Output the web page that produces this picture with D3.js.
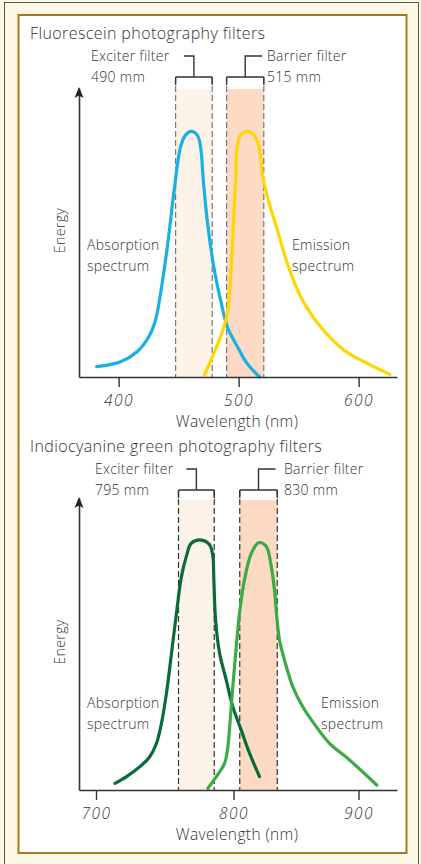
<!DOCTYPE html>
<html lang="en">

<head>
    <meta charset="utf-8">
    <title>Fluorescein and ICG photography filters</title>
    <style>
        body { margin: 0; background: #fdf8e6; }
        svg text { font-family: "Open Sans", sans-serif; font-weight: 300; fill: #333; }
    </style>
</head>

<body>
    <script src="https://cdn.jsdelivr.net/npm/d3@7/dist/d3.min.js"></script>
    <script>
        // ---- data (energy in arbitrary units, 0-100) ----
        var fluoTicks = [400, 500, 600];
        var fluoDomain = [367, 632];
        var fluoExciterBand = [447.5, 478];
        var fluoBarrierBand = [490, 521];
        var fluoExciterText = ["Exciter filter", "490 mm"];
        var fluoBarrierText = ["Barrier filter", "515 mm"];
        var fluoAbsWave = [381.7, 401.7, 415.6, 425.3, 430.8, 435, 440.6, 446, 451.7, 455.8, 460.6, 465.6, 468.3, 470.6, 473.9, 479.4, 485, 490.6, 499, 507, 517.5];
        var fluoAbsEnergy = [3.6, 5.3, 8.8, 14, 19.7, 29, 45, 63.5, 79.7, 83.7, 85, 83.7, 79.7, 68, 54, 38, 26.6, 17.4, 10.5, 4.7, 0];
        var fluoEmiWave = [471.7, 479.4, 485, 490.6, 494.7, 497.5, 498.9, 501.7, 507.2, 512.8, 517, 519.7, 523.9, 532.2, 540.6, 551.7, 568.3, 587.8, 607.2, 626.1];
        var fluoEmiEnergy = [0.7, 8.2, 14, 22, 45, 68, 79.7, 83.7, 85, 83.7, 79.7, 70.5, 62.4, 51, 39.3, 27.8, 17.4, 9.3, 4.7, 0.9];

        var icgTicks = [700, 800, 900];
        var icgDomain = [688, 930];
        var icgExciterBand = [760, 786];
        var icgBarrierBand = [805, 835];
        var icgExciterText = ["Exciter filter", "795 mm"];
        var icgBarrierText = ["Barrier filter", "830 mm"];
        var icgAbsWave = [713.8, 722.2, 731.9, 739.1, 744, 747.6, 751.2, 754.9, 758.5, 762.1, 765.7, 769.3, 776.6, 782.6, 785, 785.7, 787, 789.9, 794.7, 799.5, 806.2, 812.8, 820.8];
        var icgAbsEnergy = [2.3, 4.6, 8, 11.4, 16, 22.8, 33, 46.8, 60.5, 73, 80, 84.5, 85.6, 84, 80, 72, 58, 46.8, 37.7, 28.5, 20.5, 12.6, 4.6];
        var icgEmiWave = [781.4, 787.5, 793.5, 795.9, 797.6, 799.5, 802.2, 804.8, 808.8, 814.2, 820.2, 826.2, 830.2, 832.8, 834.5, 836.8, 840.8, 847.4, 855.4, 866.2, 876.8, 892.8, 914.2];
        var icgEmiEnergy = [0.6, 4.6, 9.1, 14.8, 24, 35.4, 49, 60.5, 72, 81, 84.7, 83.4, 76.5, 68.5, 60, 51.4, 44.5, 35.4, 28.5, 21.7, 16, 10.3, 1.7];

        var W = 421, H = 864;
        var svg = d3.select("body").append("svg").attr("width", W).attr("height", H);

        // frame
        svg.append("rect").attr("x", 4.5).attr("y", 2.5).attr("width", 414).attr("height", 870)
            .attr("fill", "#fdf8e6").attr("stroke", "#555").attr("stroke-width", 1);
        svg.append("rect").attr("x", 18.5).attr("y", 15).attr("width", 388).attr("height", 838)
            .attr("fill", "#fff").attr("stroke", "#a57a1f").attr("stroke-width", 2);

        function zip(a, b) {
            return a.map(function(d, i) { return [d, b[i]]; });
        }

        function drawPanel(p) {
            var g = svg.append("g");
            var x = d3.scaleLinear().domain(p.domain).range(p.range);
            var y = d3.scaleLinear().domain([0, 100]).range([p.axisY, p.topY]);
            var xLeft = p.range[0], xRight = p.range[p.range.length - 1];

            // title
            g.append("text").attr("x", 30).attr("y", p.titleY).attr("font-size", 16)
                .attr("letter-spacing", 0.4).text(p.title);

            // filter bands
            var bands = [
                { band: p.exciter, fill: "#fdf3e8", text: p.exciterText, side: "left" },
                { band: p.barrier, fill: "#fcdac3", text: p.barrierText, side: "right" }
            ];
            bands.forEach(function(b) {
                var x0 = x(b.band[0]), x1 = x(b.band[1]), xm = (x0 + x1) / 2;
                g.append("rect").attr("x", x0).attr("y", p.bandTop)
                    .attr("width", x1 - x0).attr("height", p.axisY - p.bandTop).attr("fill", b.fill);
                [x0, x1].forEach(function(xx) {
                    g.append("line").attr("x1", xx).attr("x2", xx).attr("y1", p.bracketY).attr("y2", p.axisY)
                        .attr("stroke", p.dashColor).attr("stroke-width", 1.2).attr("stroke-dasharray", "6,3");
                    g.append("line").attr("x1", xx).attr("x2", xx).attr("y1", p.bracketY).attr("y2", p.bracketY + 8)
                        .attr("stroke", "#333").attr("stroke-width", 1.4);
                });
                var stemEnd = b.side == "left" ? xm - 10 : xm + 17;
                g.append("path")
                    .attr("d", "M" + x0 + "," + p.bracketY + "H" + x1 + "M" + xm + "," + p.bracketY +
                        "V" + (p.bracketY - 21) + "H" + stemEnd)
                    .attr("fill", "none").attr("stroke", "#333").attr("stroke-width", 1.4);
                var tx = b.side == "left" ? p.exciterTextX : p.barrierTextX;
                g.append("text").attr("x", tx).attr("y", p.bracketY - 16).attr("font-size", 14)
                    .attr("letter-spacing", 0.3).text(b.text[0]);
                g.append("text").attr("x", tx).attr("y", p.bracketY + 5).attr("font-size", 14)
                    .attr("letter-spacing", 0.3).text(b.text[1]);
            });

            // curves
            var line = d3.line().x(function(d) { return x(d[0]); }).y(function(d) { return y(d[1]); })
                .curve(d3.curveCatmullRom.alpha(0.5));
            g.append("path").datum(zip(p.absWave, p.absEnergy)).attr("d", line)
                .attr("fill", "none").attr("stroke", p.absColor).attr("stroke-width", 3.2).attr("stroke-linecap", "round");
            g.append("path").datum(zip(p.emiWave, p.emiEnergy)).attr("d", line)
                .attr("fill", "none").attr("stroke", p.emiColor).attr("stroke-width", 3.2).attr("stroke-linecap", "round");

            // axes
            var xAxis = d3.axisBottom(x).tickValues(p.ticks).tickSize(10).tickSizeOuter(0);
            var ax = g.append("g").attr("transform", "translate(0," + p.axisY + ")").call(xAxis);
            ax.select(".domain").attr("stroke", "#333").attr("stroke-width", 1.6);
            ax.selectAll(".tick line").attr("stroke", "#333").attr("stroke-width", 1.4);
            ax.selectAll(".tick text").attr("font-size", 15.5).attr("font-style", "italic")
                .attr("font-family", "Open Sans, sans-serif").attr("font-weight", 300).attr("fill", "#333")
                .attr("letter-spacing", 1.5).attr("y", 29).attr("dy", 0);

            var yAxis = d3.axisLeft(y).tickValues([]).tickSizeOuter(0);
            var ay = g.append("g").attr("transform", "translate(" + xLeft + ",0)").call(yAxis);
            ay.select(".domain").attr("stroke", "#333").attr("stroke-width", 1.6);
            g.append("path").attr("d", "M" + xLeft + "," + (p.topY - 1) + "l-4.5,11l4.5,-2.5l4.5,2.5z").attr("fill", "#222");

            g.append("text").attr("x", (xLeft + xRight) / 2 - 1).attr("y", p.axisY + 50)
                .attr("text-anchor", "middle").attr("font-size", 15.5).attr("letter-spacing", 0.4)
                .text("Wavelength (nm)");
            g.append("text").attr("transform", "translate(65," + ((p.axisY + p.topY) / 2 - 2) + ") rotate(-90)")
                .attr("text-anchor", "middle").attr("font-size", 14).attr("letter-spacing", 0.4).text("Energy");

            // curve labels
            [["Absorption", 0], ["spectrum", 1]].forEach(function(t) {
                g.append("text").attr("x", 87).attr("y", p.labelY + t[1] * 21).attr("font-size", 14)
                    .attr("letter-spacing", 0.3).text(t[0]);
                g.append("text").attr("x", p.emiLabelX).attr("y", p.labelY + t[1] * 21).attr("font-size", 14)
                    .attr("letter-spacing", 0.3).text(t[1] == 0 ? "Emission" : "spectrum");
            });
        }

        drawPanel({
            title: "Fluorescein photography filters", titleY: 39,
            domain: fluoDomain, range: [79, 397], ticks: fluoTicks,
            axisY: 377, topY: 88, bandTop: 89, bracketY: 77, exciterTextX: 91, barrierTextX: 267,
            exciter: fluoExciterBand, barrier: fluoBarrierBand,
            exciterText: fluoExciterText, barrierText: fluoBarrierText,
            absWave: fluoAbsWave, absEnergy: fluoAbsEnergy, emiWave: fluoEmiWave, emiEnergy: fluoEmiEnergy,
            absColor: "#19b0e6", emiColor: "#ffd600", dashColor: "#777",
            labelY: 250, emiLabelX: 292
        });

        drawPanel({
            title: "Indiocyanine green photography filters", titleY: 452,
            domain: [icgDomain[0], icgTicks[0], icgTicks[1], icgTicks[2], icgDomain[1]],
            range: [79, 96, 233.5, 358.5, 397], ticks: icgTicks,
            axisY: 790, topY: 498, bandTop: 500, bracketY: 490, exciterTextX: 95, barrierTextX: 284,
            exciter: icgExciterBand, barrier: icgBarrierBand,
            exciterText: icgExciterText, barrierText: icgBarrierText,
            absWave: icgAbsWave, absEnergy: icgAbsEnergy, emiWave: icgEmiWave, emiEnergy: icgEmiEnergy,
            absColor: "#0b6a3a", emiColor: "#3aab45", dashColor: "#333",
            labelY: 708, emiLabelX: 321
        });
    </script>
</body>

</html>
